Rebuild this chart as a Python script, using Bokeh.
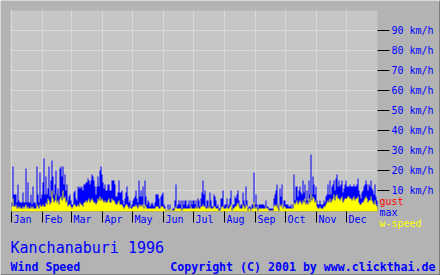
from bokeh.plotting import figure
from bokeh.models import (FixedTicker, Label, ColumnDataSource, Range1d,
                          BoxAnnotation, Grid)
from bokeh.embed import file_html
from bokeh.resources import INLINE

month_names = ["Jan", "Feb", "Mar", "Apr", "May", "Jun",
               "Jul", "Aug", "Sep", "Oct", "Nov", "Dec"]
month_days = [31, 29, 31, 30, 31, 30, 31, 31, 30, 31, 30, 31]
speed_ticks = [10, 20, 30, 40, 50, 60, 70, 80, 90]
speed_max = 100

# daily gust max (km/h)
gust_jan = [4, 22, 8, 8, 8, 4, 13, 5, 4, 4, 4, 9, 4, 4, 21, 4, 14, 4, 4, 8, 3, 12, 4, 4, 3, 22, 8, 4, 19, 6, 8]
gust_feb = [14, 26, 8, 17, 8, 11, 22, 7, 15, 25, 17, 8, 13, 20, 8, 11, 7, 21, 22, 17, 22, 13, 18, 10, 13, 5, 7, 8, 5]
gust_mar = [3, 3, 9, 10, 6, 5, 12, 11, 12, 11, 12, 10, 13, 13, 14, 14, 16, 15, 13, 15, 18, 17, 15, 12, 8, 12, 17, 12, 20, 22, 18]
gust_apr = [14, 11, 13, 10, 10, 13, 13, 10, 10, 15, 15, 15, 13, 7, 7, 9, 15, 9, 9, 10, 5, 3, 6, 9, 12, 7, 4, 5, 2, 3]
gust_may = [5, 6, 7, 10, 6, 4, 15, 7, 10, 7, 12, 2, 15, 7, 3, 5, 4, 2, 3, 4, 3, 2, 4, 8, 8, 8, 6, 2, 7, 8, 9]
gust_jun = [3, 2, 0, 0, 3, 1, 3, 0, 0, 1, 1, 5, 13, 2, 3, 5, 3, 5, 1, 5, 3, 5, 5, 2, 3, 5, 2, 5, 3, 5]
gust_jul = [5, 3, 5, 2, 6, 5, 2, 6, 9, 15, 8, 10, 2, 5, 5, 2, 9, 5, 2, 2, 8, 7, 5, 2, 3, 1, 1, 6, 6, 10, 2]
gust_aug = [3, 3, 6, 2, 3, 6, 10, 1, 3, 3, 7, 6, 8, 10, 5, 2, 3, 3, 9, 5, 3, 12, 5, 1, 2, 2, 1, 3, 3, 19, 3]
gust_sep = [8, 3, 1, 3, 3, 3, 3, 3, 3, 2, 5, 2, 2, 1, 1, 1, 1, 1, 6, 8, 10, 13, 3, 1, 11, 7, 13, 2, 5, 5]
gust_oct = [3, 3, 3, 2, 2, 3, 1, 3, 18, 5, 12, 12, 7, 10, 12, 9, 8, 15, 9, 13, 5, 10, 5, 15, 8, 28, 8, 17, 13, 8, 12]
gust_nov = [5, 3, 3, 5, 3, 3, 3, 5, 4, 7, 8, 13, 8, 15, 8, 12, 13, 15, 10, 16, 18, 12, 15, 12, 13, 15, 9, 11, 13, 15]
gust_dec = [12, 12, 12, 13, 12, 12, 12, 13, 12, 12, 13, 16, 10, 8, 6, 9, 10, 12, 13, 15, 13, 10, 13, 12, 15, 11, 10, 8, 13, 7, 5]

# daily mean wind speed (km/h)
wspd_jan = [2, 6, 2, 2, 3, 1, 2, 1, 2, 1, 1, 2, 1, 2, 3, 1, 2, 1, 1, 2, 1, 2, 1, 1, 1, 3, 2, 1, 3, 2, 2]
wspd_feb = [3, 2, 2, 4, 3, 6, 5, 3, 4, 10, 6, 4, 5, 8, 4, 5, 3, 6, 7, 5, 10, 6, 7, 4, 5, 2, 3, 3, 2]
wspd_mar = [1, 2, 3, 3, 2, 2, 3, 2, 4, 3, 3, 2, 4, 4, 5, 4, 5, 6, 4, 5, 6, 5, 4, 4, 3, 4, 6, 5, 7, 5, 6]
wspd_apr = [5, 4, 5, 4, 4, 5, 6, 4, 4, 6, 5, 5, 4, 3, 3, 4, 5, 3, 3, 3, 2, 1, 2, 3, 3, 2, 1, 2, 1, 1]
wspd_may = [2, 2, 2, 3, 2, 1, 3, 2, 3, 2, 3, 1, 3, 2, 1, 1, 1, 1, 1, 1, 1, 1, 1, 2, 2, 2, 1, 1, 2, 2, 2]
wspd_jun = [1, 1, 0, 0, 1, 0, 1, 0, 0, 0, 0, 1, 2, 1, 1, 1, 1, 1, 0, 1, 1, 1, 1, 1, 1, 1, 1, 2, 1, 1]
wspd_jul = [1, 1, 2, 1, 2, 1, 1, 2, 2, 3, 2, 2, 1, 1, 2, 1, 2, 1, 1, 1, 2, 2, 1, 1, 1, 0, 0, 1, 2, 2, 1]
wspd_aug = [1, 1, 2, 1, 1, 2, 3, 0, 1, 1, 2, 2, 3, 4, 2, 1, 1, 1, 3, 2, 1, 3, 2, 0, 1, 1, 0, 1, 1, 4, 1]
wspd_sep = [2, 1, 0, 1, 1, 1, 1, 1, 1, 1, 2, 1, 1, 0, 0, 0, 0, 0, 2, 3, 2, 3, 1, 0, 3, 2, 3, 1, 2, 2]
wspd_oct = [1, 1, 1, 1, 1, 1, 1, 1, 4, 3, 4, 5, 3, 4, 5, 4, 3, 5, 4, 6, 3, 4, 3, 6, 4, 8, 5, 7, 6, 4, 5]
wspd_nov = [2, 1, 1, 2, 1, 1, 1, 2, 2, 3, 4, 5, 4, 6, 4, 5, 6, 8, 5, 7, 8, 6, 6, 5, 6, 7, 4, 5, 6, 6]
wspd_dec = [6, 7, 7, 6, 6, 5, 6, 7, 5, 6, 6, 7, 4, 3, 3, 4, 4, 5, 6, 7, 6, 4, 5, 5, 7, 5, 4, 3, 5, 3, 2]

gust = (gust_jan + gust_feb + gust_mar + gust_apr + gust_may + gust_jun +
        gust_jul + gust_aug + gust_sep + gust_oct + gust_nov + gust_dec)
wspeed = (wspd_jan + wspd_feb + wspd_mar + wspd_apr + wspd_may + wspd_jun +
          wspd_jul + wspd_aug + wspd_sep + wspd_oct + wspd_nov + wspd_dec)
n_days = len(gust)

month_starts = []
acc = 0
for d in month_days:
    month_starts.append(acc)
    acc += d

# step outlines: value of day i holds from i to i+1
src = ColumnDataSource(dict(x=list(range(n_days + 1)),
                            gust=gust + gust[-1:],
                            wspeed=wspeed + wspeed[-1:]))

MONO = "DejaVu Sans Mono"
BLUE = "#0000ff"
OUTER = "#b3b3b3"
PLOT_BG = "#c6c6c6"
GRID = "#d9d9d9"
EDGE = "#4a4a4a"

X0, Y0 = -1, -0.5          # plot area lower-left (data units)
XR = (-11, 429)
YR = (-32.5, 105)
p = figure(width=440, height=275, output_backend="svg", toolbar_location=None,
           x_range=Range1d(*XR), y_range=Range1d(*YR),
           x_axis_location="below", y_axis_location="right",
           min_border_left=0, min_border_right=0,
           min_border_top=0, min_border_bottom=0)
p.background_fill_color = OUTER
p.border_fill_color = OUTER
p.outline_line_color = None

p.add_layout(BoxAnnotation(left=X0, right=n_days, bottom=Y0, top=speed_max,
                           fill_color=PLOT_BG, fill_alpha=1.0,
                           line_color=None, level="image"))

p.varea_step(x="x", y1=Y0, y2="gust", step_mode="after", source=src,
             fill_color="#0000ff")
p.varea_step(x="x", y1=Y0, y2="wspeed", step_mode="after", source=src,
             fill_color="#ffff00")

# month labels, sitting just right of each month-start tick
label_shift = 11
xa = p.xaxis[0]
xa.fixed_location = Y0
xa.ticker = FixedTicker(ticks=[m + label_shift for m in month_starts])
xa.major_label_overrides = {m + label_shift: n for m, n in zip(month_starts, month_names)}
xa.major_tick_out = 0
xa.major_tick_in = 0
xa.minor_tick_out = 0
xa.minor_tick_in = 0
xa.major_tick_line_color = None
xa.minor_tick_line_color = None
xa.axis_line_color = None
xa.major_label_text_font = MONO
xa.major_label_text_font_size = "10px"
xa.major_label_text_color = BLUE
xa.major_label_standoff = 2

# month-start tick marks below the plot area
p.add_layout(Grid(dimension=0, ticker=FixedTicker(ticks=month_starts),
                  cross_bounds=(Y0 - 5.5, Y0), grid_line_color="black",
                  level="guide"))

ya = p.yaxis[0]
ya.fixed_location = n_days
ya.ticker = FixedTicker(ticks=speed_ticks)
ya.major_label_overrides = {v: f"{v} km/h" for v in speed_ticks}
ya.major_tick_out = 12
ya.major_tick_in = 0
ya.minor_tick_out = 0
ya.minor_tick_in = 0
ya.axis_line_color = None
ya.major_tick_line_color = "black"
ya.major_label_text_font = MONO
ya.major_label_text_font_size = "10px"
ya.major_label_text_color = BLUE
ya.major_label_standoff = 2

p.xgrid[0].ticker = FixedTicker(ticks=month_starts)
p.xgrid[0].grid_line_color = GRID
p.ygrid[0].grid_line_color = GRID
p.xgrid[0].cross_bounds = (Y0, speed_max)
p.ygrid[0].cross_bounds = (X0, n_days)

# dark edge at right and bottom of the picture
p.add_layout(BoxAnnotation(left=XR[1] - 1, right=XR[1], bottom=YR[0], top=YR[1],
                           fill_color=EDGE, fill_alpha=1.0, line_color=None,
                           level="overlay"))
p.add_layout(BoxAnnotation(left=XR[0], right=XR[1], bottom=YR[0], top=YR[0] + 0.5,
                           fill_color=EDGE, fill_alpha=1.0, line_color=None,
                           level="overlay"))


def lab(x, y, text, color, size="10px", style="normal", align="left"):
    p.add_layout(Label(x=x, y=y, x_units="screen", y_units="screen", text=text,
                       text_color=color, text_font=MONO, text_font_size=size,
                       text_font_style=style, text_align=align,
                       text_baseline="alphabetic"))


lab(379, 74.5, "gust", "#ff0000")
lab(379, 63.3, "max", BLUE)
lab(379, 52.5, "w-speed", "#ffff00")
lab(10, 28, "Kanchanaburi 1996", BLUE, size="15px")
lab(10, 9, "Wind Speed", BLUE, size="11.6px", style="bold")
lab(435, 9, "Copyright (C) 2001 by www.clickthai.de", BLUE, size="11.6px",
    style="bold", align="right")

open("out.html", "w").write(file_html(p, INLINE))
